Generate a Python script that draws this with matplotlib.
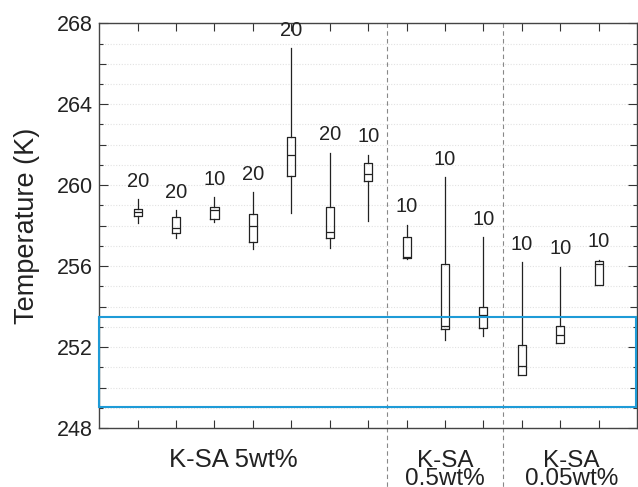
import matplotlib
matplotlib.use("Agg")
import matplotlib.pyplot as plt
from matplotlib.patches import Rectangle
from matplotlib.ticker import MultipleLocator, FuncFormatter
import matplotlib.transforms as mtransforms

plt.rcParams['font.family'] = ['Liberation Sans', 'DejaVu Sans']

# ---- data ----
positions = list(range(1, 14))
whis_hi = [259.31, 258.75, 259.41, 259.65, 266.77, 261.61, 261.50, 258.04, 260.40, 257.43, 256.20, 255.98, 256.31]
q3 = [258.81, 258.45, 258.91, 258.58, 262.37, 258.91, 261.09, 257.46, 256.10, 253.96, 252.08, 253.05, 256.26]
med = [258.67, 257.88, 258.78, 257.96, 261.50, 257.69, 260.56, 256.47, 253.02, 253.58, 251.08, 252.61, 256.10]
q1 = [258.48, 257.66, 258.32, 257.17, 260.47, 257.38, 260.23, 256.40, 252.90, 252.94, 250.60, 252.20, 255.08]
whis_lo = [258.12, 257.38, 258.17, 256.85, 258.62, 256.92, 258.25, 256.35, 252.36, 252.56, 250.60, 252.20, 255.08]
counts = [20, 20, 10, 20, 20, 20, 10, 10, 10, 10, 10, 10, 10]

group_labels = ["K-SA 5wt%", "K-SA\n0.5wt%", "K-SA\n0.05wt%"]
group_centers = [3.5, 9.0, 12.3]
group_dividers = [7.5, 10.5]
highlight_range = (249.04, 253.51)

# ---- figure ----
fig = plt.figure(figsize=(6.38, 4.87), dpi=100)
ax = fig.add_axes([0.1556, 0.1211, 0.8428, 0.8311])

stats = []
for i in range(len(positions)):
    stats.append(dict(med=med[i], q1=q1[i], q3=q3[i], whislo=whis_lo[i],
                      whishi=whis_hi[i], fliers=[]))

lc = '#222222'
lw = 0.9
ax.bxp(stats, positions=positions, widths=0.21, showfliers=False, showcaps=False,
       boxprops=dict(color=lc, linewidth=lw),
       whiskerprops=dict(color=lc, linewidth=lw),
       medianprops=dict(color=lc, linewidth=lw),
       manage_ticks=False)

for x, top, n in zip(positions, whis_hi, counts):
    ax.annotate(str(n), (x, top), xytext=(0, 13), textcoords='offset points',
                ha='center', va='center', fontsize=14.5, color='#222222')

ax.set_xlim(0, 14)
ax.set_ylim(248, 268)

# grid
ax.yaxis.set_minor_locator(MultipleLocator(1))
ax.grid(True, which='both', axis='y', linestyle=(0, (1, 1.5)), color='#e2e2e2', linewidth=0.8)
ax.set_axisbelow(True)

# y ticks: majors every 2, labels on multiples of 4
ax.yaxis.set_major_locator(MultipleLocator(2))
ax.yaxis.set_major_formatter(FuncFormatter(lambda v, p: f"{int(round(v))}" if int(round(v)) % 4 == 0 else ""))
ax.tick_params(axis='y', which='major', direction='in', length=5.2, width=0.8,
               left=True, right=True, labelsize=15.5, pad=4.5, colors='#333333', labelcolor='#222222')
ax.tick_params(axis='y', which='minor', direction='in', length=3.2, width=0.8,
               left=True, right=True, colors='#333333')
ax.set_xticks(positions)
ax.tick_params(axis='x', which='major', direction='in', length=6, width=0.8,
               top=True, bottom=True, labelbottom=False, colors='#333333')
ax.tick_params(axis='x', which='minor', bottom=False, top=False)

fig.canvas.draw()
for t in ax.yaxis.get_major_ticks():
    v = t.get_loc()
    if v is not None and int(round(v)) % 4 == 0:
        t.tick1line.set_markersize(6.7)
        t.tick2line.set_markersize(6.7)

for s in ax.spines.values():
    s.set_color('#444444')
    s.set_linewidth(1.0)

ax.set_ylabel("Temperature (K)", fontsize=19.5, va='center', color='#222222')
ax.yaxis.set_label_coords(-0.1345, 0.5)

# highlight rectangle
ax.add_patch(Rectangle((0.0, highlight_range[0]), 13.97, highlight_range[1] - highlight_range[0],
                       fill=False, edgecolor='#1e9bd7', linewidth=1.5, clip_on=False, zorder=5))

# group dividers
trans = mtransforms.blended_transform_factory(ax.transData, ax.transAxes)
for xd in group_dividers:
    ax.plot([xd, xd], [1.0, -0.16], transform=trans, color='#888888', linewidth=0.8,
            linestyle=(0, (4, 3)), clip_on=False, zorder=1)

# group labels
for xc, lab in zip(group_centers, group_labels):
    lines = lab.split("\n")
    size = 18.5 if len(lines) == 1 else 17.5
    for k, line in enumerate(lines):
        ax.text(xc, -0.097 - 0.043 * k, line, transform=trans, ha='center', va='baseline',
                fontsize=size, color='#222222')

fig.savefig("out.png", dpi=100)
